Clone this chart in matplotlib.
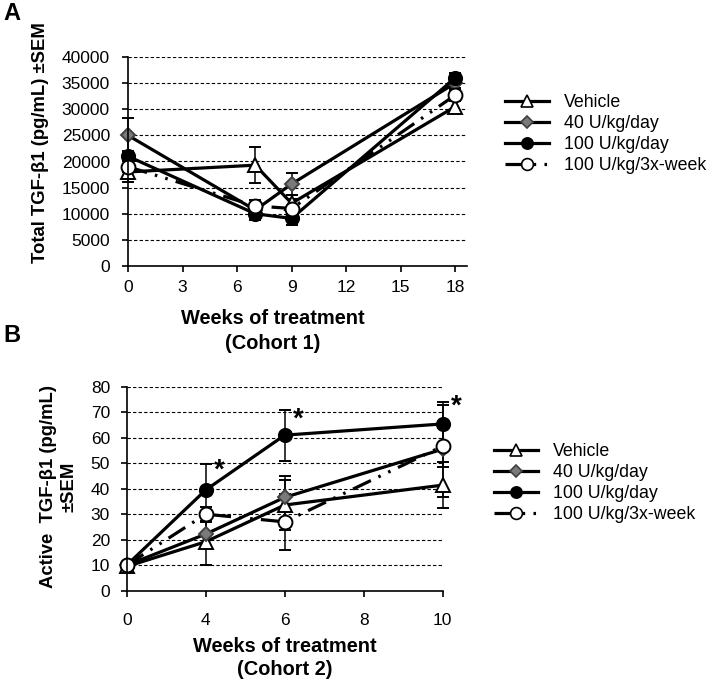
import matplotlib
matplotlib.use('Agg')
import matplotlib.pyplot as plt
from matplotlib.lines import Line2D
import numpy as np

plt.rcParams['font.family'] = ['Liberation Sans', 'DejaVu Sans']

series = ['Vehicle', '40 U/kg/day', '100 U/kg/day', '100 U/kg/3x-week']

# Cohort 1, total TGF-b1
weeks_a = [0, 7, 9, 18]
total_a = {
    'Vehicle': [18000, 19300, 12000, 30500],
    '40 U/kg/day': [25000, 10700, 15700, 35000],
    '100 U/kg/day': [21000, 10000, 9100, 36000],
    '100 U/kg/3x-week': [19000, 11500, 11000, 32700],
}
sem_a = {
    'Vehicle': [2000, 3500, 1500, 1000],
    '40 U/kg/day': [3300, 1000, 2100, 1000],
    '100 U/kg/day': [1000, 1200, 1300, 1000],
    '100 U/kg/3x-week': [1000, 1200, 1800, 1000],
}

# Cohort 2, active TGF-b1 (category axis)
xcats_b = ['0', '4', '6', '8', '10']
weeks_b = ['0', '4', '6', '10']
active_b = {
    'Vehicle': [9.5, 19.2, 33.6, 41.4],
    '40 U/kg/day': [10, 22.2, 36.6, 55.5],
    '100 U/kg/day': [10, 39.5, 61, 65.4],
    '100 U/kg/3x-week': [10, 30, 27, 56.7],
}
sem_b = {
    'Vehicle': [0.5, 9.2, 9.8, 9],
    '40 U/kg/day': [0.5, 5, 8.4, 18.6],
    '100 U/kg/day': [0.5, 10.2, 10, 7.5],
    '100 U/kg/3x-week': [0.5, 3, 11, 8],
}
star_weeks = ['4', '6', '10']
star_y = [47, 67, 72]

styles = {
    'Vehicle': dict(marker='^', mfc='white', mec='black', ms=10, ls='-'),
    '40 U/kg/day': dict(marker='D', mfc='#7a7a7a', mec='#404040', ms=7.5, ls='-'),
    '100 U/kg/day': dict(marker='o', mfc='black', mec='black', ms=9.5, ls='-'),
    '100 U/kg/3x-week': dict(marker='o', mfc='white', mec='black', ms=10,
                             ls=(0, (6.2, 2.6, 0.8, 2.6, 0.8, 2.6))),
}

fig = plt.figure(figsize=(7.13, 6.84), dpi=100)
W, H = 713, 684

def px_axes(l, t, r, b):
    return fig.add_axes([l / W, 1 - b / H, (r - l) / W, (b - t) / H])

def style_ax(ax, ypad, xpad):
    for s in ['top', 'right']:
        ax.spines[s].set_visible(False)
    ax.spines['left'].set_linewidth(1.2)
    ax.spines['bottom'].set_linewidth(1.2)
    ax.yaxis.grid(True, ls=(0, (3, 2)), color='black', lw=0.8)
    ax.set_axisbelow(True)
    ax.tick_params(axis='y', direction='out', length=4, width=1.2, pad=ypad, labelsize=12.5)
    ax.tick_params(axis='x', direction='out', length=4, width=1.2, pad=xpad, labelsize=12.5)

def draw(ax, xs, data, sem):
    for name in series:
        st = styles[name]
        ax.errorbar(xs, data[name], yerr=sem[name], color='black', lw=2.3,
                    ecolor='black', elinewidth=1.1, capsize=4, capthick=1.1,
                    marker=st['marker'], mfc=st['mfc'], mec=st['mec'], ms=st['ms'],
                    mew=1.4, ls=st['ls'], clip_on=False)

# plain legend keys (no error bars)
proxies = [Line2D([], [], color='black', lw=2.3, mew=1.2, **{k: v for k, v in styles[n].items()})
           for n in series]
for p in proxies:
    p.set_markersize(p.get_markersize() * 0.85)

leg_kw = dict(loc='center left', frameon=False, fontsize=12.8, handlelength=2.5,
              handletextpad=0.8, labelspacing=0.22, borderpad=0, borderaxespad=0)

# ---------- panel A
axA = px_axes(128, 57, 467, 266)
draw(axA, weeks_a, total_a, sem_a)
axA.set_xlim(0, 18.65)
axA.set_ylim(0, 40000)
axA.set_xticks(np.arange(0, 19, 3))
axA.set_yticks(np.arange(0, 40001, 5000))
style_ax(axA, 9, 6)
axA.get_ygridlines()[0].set_visible(False)

fig.text(3 / W, 1 - 14 / H, 'A', fontsize=17, fontweight='bold', va='center', ha='left')
fig.text(41 / W, 1 - 143 / H, 'Total TGF-β1 (pg/mL) ±SEM', rotation=90, fontsize=13.3,
         fontweight='bold', ha='center', va='center')
fig.text(273 / W, 1 - 331 / H, 'Weeks of treatment\n(Cohort 1)', fontsize=14.4,
         fontweight='bold', ha='center', va='center', linespacing=1.35)
fig.legend(proxies, series, bbox_to_anchor=(505 / W, 1 - 134 / H), **leg_kw)

# ---------- panel B
axB = px_axes(126.7, 386.7, 442.7, 590.7)
xb = [xcats_b.index(w) for w in weeks_b]
draw(axB, xb, active_b, sem_b)
for w, y in zip(star_weeks, star_y):
    axB.annotate('*', (xcats_b.index(w), y), xytext=(10, 0), textcoords='offset points',
                 fontsize=20, fontweight='bold', ha='center', va='center')
axB.set_xlim(0, len(xcats_b) - 1)
axB.set_ylim(0, 80)
axB.set_xticks(range(len(xcats_b)))
axB.set_xticklabels(xcats_b)
axB.set_yticks(np.arange(0, 81, 10))
style_ax(axB, 8, 12)
axB.get_ygridlines()[0].set_visible(False)

fig.text(3 / W, 1 - 336 / H, 'B', fontsize=17, fontweight='bold', va='center', ha='left')
fig.text(59 / W, 1 - 487 / H, 'Active  TGF-β1 (pg/mL)\n±SEM', rotation=90, fontsize=13.3,
         fontweight='bold', ha='center', va='center', multialignment='center',
         linespacing=1.3)
fig.text(285 / W, 1 - 658 / H, 'Weeks of treatment\n(Cohort 2)', fontsize=14.4,
         fontweight='bold', ha='center', va='center', linespacing=1.3)
fig.legend(proxies, series, bbox_to_anchor=(494 / W, 1 - 483 / H), **leg_kw)

fig.savefig('out.png', dpi=100)
